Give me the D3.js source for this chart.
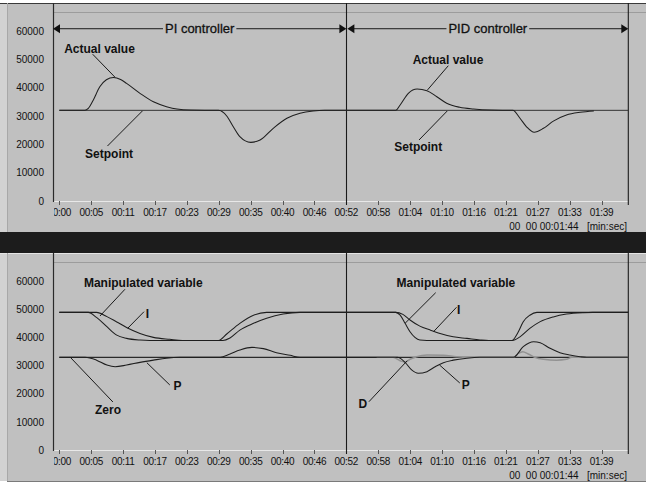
<!DOCTYPE html>
<html><head><meta charset="utf-8">
<script src="https://cdn.jsdelivr.net/npm/d3@7"></script>
<style>html,body{margin:0;padding:0;background:#fff;overflow:hidden}svg{display:block}text{font-family:"Liberation Sans",Arial,sans-serif}</style>
</head><body><svg id="c" width="646" height="483"></svg>
<script>
// ---------- data ----------
const timeLabels = ["00:00","00:05","00:11","00:17","00:23","00:29","00:35","00:40","00:46","00:52","00:58","01:04","01:10","01:16","01:21","01:27","01:33","01:39"];
const tickStep = 5.83;            // seconds between labelled ticks
const duration = 104;             // 00:01:44
const sectionSplit = 9 * tickStep; // PI -> PID switch at 00:52
const sectionNames = ["PI controller", "PID controller"];
const yTickValues = [0, 10000, 20000, 30000, 40000, 50000, 60000];
const footerText = "00  00 00:01:44   [min:sec]";

// top chart: [seconds, value]
const setpoint = [[0,32000],[104,32000]];
const actualValue = [[0,32000],[4.7,32000],[5.3,32700],[6.2,35600],[7.4,40300],[8.6,42800],[9.9,43600],[11.2,42900],[12.3,41500],[14.75,38000],[17.2,35000],[19.6,33300],[21.5,32450],[24,32100],[29.1,32000],[30.6,30000],[31.8,26200],[33,22700],[35,20700],[36.7,21500],[39.1,25650],[41.6,29200],[44,30950],[46.4,31750],[48.5,32000],
  [61.5,32000],[62.3,33900],[63.8,38000],[65.4,39500],[67.2,38950],[69,36800],[70.8,34500],[73.2,33070],[75.7,32470],[79,32100],[82.9,32000],[84.2,29200],[85.4,26200],[86.8,24250],[88.5,25650],[90.3,28200],[92.7,30350],[95.2,31300],[97.7,31770]];

// bottom chart
const zeroLine = [[0,33000],[104,33000]];
const manipulated = [[0,49000],[5.3,49000],[6.8,47200],[8.7,43900],[10.5,40900],[12.3,39750],[14.75,39150],[16.5,39000],[29.1,39000],[30.6,41300],[33,45100],[35.5,48000],[37.9,49000],[40,49000],
  [61.5,49000],[62.3,48000],[63.2,45100],[64.1,42100],[65,40100],[65.9,39150],[67.2,39000],[82.7,39000],[83.9,42100],[84.8,45700],[86,48000],[87.3,49000],[104,49000]];
const integral = [[0,49000],[6.8,49000],[8.7,47500],[10.5,45600],[12.3,43650],[14.75,41500],[17.2,40100],[20.2,39400],[22.5,39000],[29.9,39000],[31.2,39900],[33,42700],[35.5,45100],[37.9,46900],[40.9,48400],[44,49000],
  [61.5,49000],[62.8,48300],[64.1,46300],[65.9,44100],[67.8,42700],[69.6,41500],[72,40300],[74.5,39750],[76.9,39200],[78.5,39000],[82.8,39000],[84.2,40300],[86,43300],[87.9,45700],[90.3,47400],[92.7,48400],[95.8,48900],[97.5,49000],[104,49000]];
const proportional = [[0,33000],[4.7,33000],[6.8,32000],[8.7,30250],[10.2,29650],[12.3,30250],[14.75,31200],[17.2,32000],[19.6,32700],[22,33000],[29.4,33000],[31.2,34200],[33,35600],[35.2,36550],[37.3,36100],[39.7,34650],[42.2,33700],[44,33000],
  [61.8,33000],[63.2,31200],[64.4,28500],[65.6,27300],[67.2,27900],[68.7,29650],[70.2,31100],[72,32000],[74.5,32700],[76.9,33000],[83,33000],[84.8,36800],[86.7,38550],[87.9,38200],[89.7,36200],[91.5,34650],[93.3,33800],[95.2,33200],[96.4,33000],[104,33000]];
const derivative = [[58,33000],[61,33000],[62.3,31800],[63.2,31300],[64.1,32300],[65.3,33200],[67.2,33800],[70.2,33700],[72.6,33200],[74.5,33000],[83,33000],[83.9,34400],[84.7,35000],[85.7,34200],[86.9,33000],[88.5,32300],[90.9,32000],[92.7,32300],[93.7,33000],[104,33000]];

// annotations (data units: seconds, value)
const topNotes = [
  {text:"Actual value", t:7.35, v:53900, from:[6.1,51800], to:[10.2,43650]},
  {text:"Setpoint", t:9.1, v:16600, from:[8.8,19400], to:[15.2,31800]},
  {text:"Actual value", t:71.05, v:50000, from:[71.1,47750], to:[67.3,39200]},
  {text:"Setpoint", t:65.6, v:19060, from:[65.75,21530], to:[70.9,31760]}
];
const bottomNotes = [
  {text:"Manipulated variable", t:15.35, v:59720, from:[12.0,57230], to:[7.44,47720]},
  {text:"I", t:16.1, v:48680, from:[15.48,49250], to:[12.5,43340]},
  {text:"Zero", t:8.9, v:14250, from:[9.8,17090], to:[1.96,33120]},
  {text:"P", t:21.6, v:22900, from:[20.2,23150], to:[16.0,31090]},
  {text:"Manipulated variable", t:72.5, v:59580, from:[68.8,56020], to:[63.2,45120]},
  {text:"I", t:73.0, v:49860, from:[72.6,50820], to:[68.4,42130]},
  {text:"D", t:55.5, v:16380, from:[56.6,17200], to:[63.6,31800]},
  {text:"P", t:74.3, v:23150, from:[73.2,23860], to:[69.5,30270]}
];

// ---------- layout ----------
const W = 646, H = 483;
const plotL = 53, plotR = 628.3;
const x = d3.scaleLinear().domain([0, duration]).range([59.3, 628.3]);
const panels = [
  {top:3, bottom:232, gridY:12.5, axisY:201, labelY:212, footY:226, y:d3.scaleLinear().domain([0,60000]).range([201,31]),
   series:[{d:setpoint,c:"#333",w:1},{d:actualValue,c:"#1e1e1e",w:1.05}], notes:topNotes, arrows:true},
  {top:253, bottom:481, gridY:262.5, axisY:450, labelY:461, footY:475, y:d3.scaleLinear().domain([0,60000]).range([450,281.5]),
   series:[{d:zeroLine,c:"#2a2a2a",w:1.1},{d:derivative,c:"#929292",w:1.5},{d:proportional,c:"#1e1e1e",w:1.05},{d:integral,c:"#1e1e1e",w:1.05},{d:manipulated,c:"#1e1e1e",w:1.05}], notes:bottomNotes, arrows:false}
];

const svg = d3.select("#c");
svg.append("rect").attr("width",W).attr("height",H).attr("fill","#ffffff");
svg.append("rect").attr("x",0).attr("y",3).attr("width",7).attr("height",478).attr("fill","#d2d2d2");

panels.forEach((p, pi) => {
  const g = svg.append("g");
  g.append("rect").attr("x",7).attr("y",p.top).attr("width",W-7).attr("height",p.bottom-p.top).attr("fill","#c0c0c0");
  g.append("line").attr("x1",0).attr("x2",W).attr("y1",p.top+0.5).attr("y2",p.top+0.5).attr("stroke", pi===0?"#3a3a3a":"#e4e4e4");
  g.append("line").attr("x1",7.5).attr("x2",7.5).attr("y1",p.top).attr("y2",p.bottom).attr("stroke","#a8a8a8");
  g.append("line").attr("x1",plotL).attr("x2",W).attr("y1",p.gridY).attr("y2",p.gridY).attr("stroke","#9c9c9c");
  g.append("line").attr("x1",plotL).attr("x2",plotR).attr("y1",p.axisY+0.5).attr("y2",p.axisY+0.5).attr("stroke","#e8e8e8");
  const ticks = timeLabels.map((l,i)=>i*tickStep);
  g.selectAll(".tk").data(ticks).join("line")
    .attr("x1",d=>Math.round(x(d))+0.5).attr("x2",d=>Math.round(x(d))+0.5)
    .attr("y1",p.axisY).attr("y2",p.axisY+4).attr("stroke","#555");
  g.append("line").attr("x1",plotL+0.5).attr("x2",plotL+0.5).attr("y1",p.top).attr("y2",p.axisY+1).attr("stroke","#2a2a2a").attr("stroke-width",1.2);
  g.append("line").attr("x1",Math.round(x(sectionSplit))+0.5).attr("x2",Math.round(x(sectionSplit))+0.5).attr("y1",p.top).attr("y2",p.axisY+4).attr("stroke","#1a1a1a").attr("stroke-width",1.1);
  g.append("line").attr("x1",plotR).attr("x2",plotR).attr("y1",p.top).attr("y2",p.axisY+4).attr("stroke","#1a1a1a").attr("stroke-width",1.1);

  g.selectAll(".yl").data(yTickValues).join("text")
    .attr("x",44).attr("y",d=>p.y(d)).attr("dy","0.36em").attr("text-anchor","end")
    .attr("font-size",10).attr("fill","#111").text(d=>d);
  const cid = "clipx"+pi;
  svg.append("clipPath").attr("id",cid).append("rect").attr("x",plotL+1).attr("y",p.top).attr("width",W).attr("height",p.bottom-p.top);
  g.append("g").attr("clip-path",`url(#${cid})`).selectAll("text").data(timeLabels).join("text")
    .attr("x",(d,i)=>x(i*tickStep)).attr("y",p.labelY).attr("dy","0.36em").attr("text-anchor","middle")
    .attr("font-size",10).attr("letter-spacing","-0.3").attr("fill","#111").text(d=>d);
  g.append("text").attr("x",627).attr("y",p.footY).attr("dy","0.36em").attr("text-anchor","end")
    .attr("font-size",10).attr("fill","#111").style("white-space","pre").text(footerText);

  const pid = "clipp"+pi;
  svg.append("clipPath").attr("id",pid).append("rect").attr("x",plotL+1).attr("y",p.top).attr("width",plotR-plotL-1).attr("height",p.axisY-p.top);
  const line = d3.line().x(d=>x(d[0])).y(d=>p.y(d[1])).curve(d3.curveMonotoneX);
  const cg = g.append("g").attr("clip-path",`url(#${pid})`);
  p.series.forEach(s => cg.append("path").attr("d",line(s.d)).attr("fill","none").attr("stroke",s.c).attr("stroke-width",s.w));

  p.notes.forEach(n => {
    g.append("line").attr("x1",x(n.from[0])).attr("y1",p.y(n.from[1])).attr("x2",x(n.to[0])).attr("y2",p.y(n.to[1]))
      .attr("stroke","#1a1a1a").attr("stroke-width",1);
    g.append("text").attr("x",x(n.t)).attr("y",p.y(n.v)).attr("dy","0.36em").attr("text-anchor","middle")
      .attr("font-size",12).attr("font-weight","bold").attr("fill","#111").text(n.text);
  });

  if (p.arrows) {
    const ay = p.y(60800);
    const spans = [[plotL, x(sectionSplit)], [x(sectionSplit)+1, plotR]];
    spans.forEach((sp, si) => {
      const [a,b] = sp;
      const mid = (a+b)/2;
      const t = g.append("text").attr("x",mid).attr("y",ay).attr("dy","0.36em").attr("text-anchor","middle")
        .attr("font-size",13).attr("fill","#111").attr("stroke","#111").attr("stroke-width",0.3).text(sectionNames[si]);
      const tw = t.node().getComputedTextLength();
      g.append("line").attr("x1",a+6).attr("x2",mid-tw/2-2).attr("y1",ay).attr("y2",ay).attr("stroke","#1a1a1a");
      g.append("line").attr("x1",mid+tw/2+2).attr("x2",b-6).attr("y1",ay).attr("y2",ay).attr("stroke","#1a1a1a");
      g.append("path").attr("d",`M${a},${ay}L${a+7},${ay-4.5}L${a+7},${ay+4.5}Z`).attr("fill","#111");
      g.append("path").attr("d",`M${b},${ay}L${b-7},${ay-4.5}L${b-7},${ay+4.5}Z`).attr("fill","#111");
    });
  }
});

svg.append("rect").attr("x",0).attr("y",232).attr("width",W).attr("height",21).attr("fill","#1c1c1c");
svg.append("line").attr("x1",7).attr("x2",W).attr("y1",481.5).attr("y2",481.5).attr("stroke","#7a7a7a");
</script></body></html>
